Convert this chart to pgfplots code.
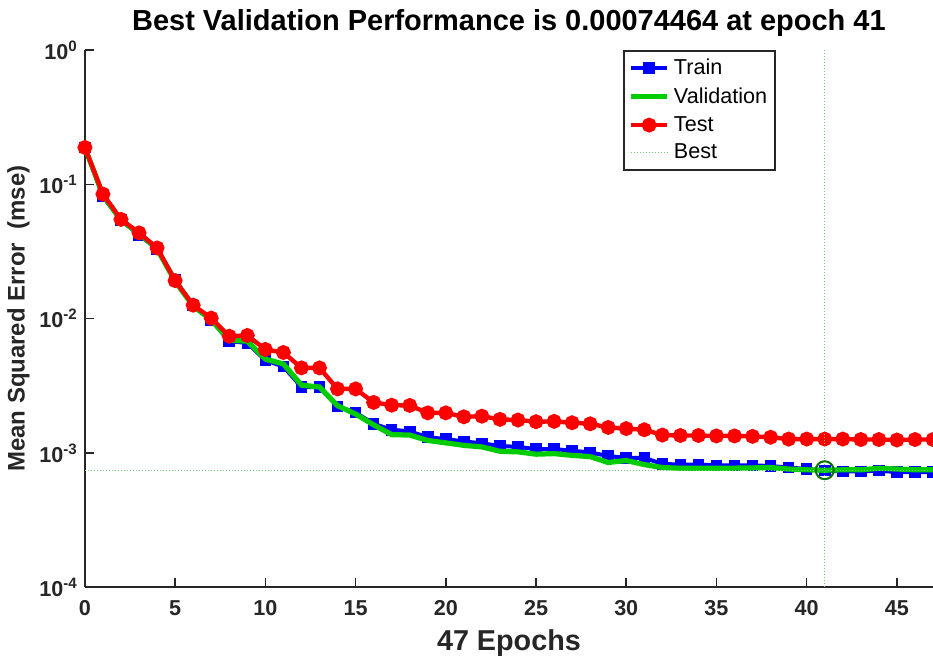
\documentclass[border=0pt]{standalone}
\usepackage{pgfplots}
\pgfplotsset{compat=1.18}
\usepackage{pgfplotstable}
\usepackage{fontspec}
\setmainfont{Liberation Sans}
\definecolor{mgray}{rgb}{0.15,0.15,0.15}
\definecolor{mgreen}{rgb}{0,0.8,0}
\definecolor{bestgreen}{rgb}{0.45,0.8,0.45}
\definecolor{circgreen}{rgb}{0,0.45,0}

\pgfplotstableread{
ep train val test
0 0.188 0.188 0.188
1 0.081 0.083 0.0845
2 0.054 0.054 0.0548
3 0.042 0.043 0.0435
4 0.033 0.033 0.0336
5 0.0195 0.019 0.0192
6 0.0125 0.0124 0.0126
7 0.0098 0.0098 0.0101
8 0.0068 0.0069 0.0074
9 0.0066 0.0068 0.0075
10 0.0049 0.0050 0.0059
11 0.0044 0.0046 0.0056
12 0.0031 0.0032 0.0043
13 0.0031 0.0031 0.0043
14 0.00222 0.00225 0.0030
15 0.0020 0.00195 0.0030
16 0.00165 0.00162 0.00238
17 0.00149 0.00137 0.00227
18 0.00145 0.00136 0.00226
19 0.00131 0.00124 0.00199
20 0.00127 0.00119 0.00199
21 0.00122 0.00114 0.00186
22 0.00118 0.00111 0.00188
23 0.00113 0.00103 0.00178
24 0.00111 0.00102 0.00176
25 0.00107 0.00098 0.00171
26 0.00107 0.00099 0.00172
27 0.00104 0.00096 0.00168
28 0.00101 0.00094 0.00165
29 0.00095 0.00085 0.00155
30 0.00092 0.00088 0.00152
31 0.00092 0.00082 0.00149
32 0.00083 0.00078 0.00136
33 0.00082 0.00077 0.00135
34 0.00082 0.00077 0.00135
35 0.00081 0.000770 0.00134
36 0.00081 0.000772 0.00134
37 0.00081 0.000775 0.00133
38 0.00080 0.00078 0.00131
39 0.00078 0.00076 0.00127
40 0.00076 0.00075 0.00127
41 0.00074 0.00074464 0.00127
42 0.00073 0.00075 0.00127
43 0.00073 0.00075 0.00126
44 0.00074 0.00077 0.00126
45 0.00072 0.00076 0.00125
46 0.00072 0.00075 0.00126
47 0.00072 0.00075 0.00126
}\perf

\begin{document}
\begin{tikzpicture}
\begin{axis}[name=ax,
  scale only axis, width=424.5pt, height=269pt,
  ymode=log, log basis y=10,
  xmin=0, xmax=47, ymin=1e-4, ymax=1,
  axis x line*=bottom, axis y line*=left,
  axis line style={mgray, line width=1pt, -},
  tick align=inside, major tick length=4.5pt, minor tick length=2.5pt,
  tick style={mgray, line width=0.8pt},
  xtick={0,5,...,45},
  ytick={1e-4,1e-3,1e-2,1e-1,1},
  yticklabels={10\textsuperscript{-4},10\textsuperscript{-3},10\textsuperscript{-2},10\textsuperscript{-1},10\textsuperscript{0}},
  ticklabel style={font=\bfseries\fontsize{10.8}{12}\selectfont, text=mgray},
  xticklabel style={yshift=-3pt},
  /pgf/number format/assume math mode=true,
  title={Best Validation Performance is 0.00074464 at epoch 41},
  title style={font=\bfseries\fontsize{14.5}{17}\selectfont, yshift=-3pt},
  xlabel={47 Epochs},
  xlabel style={font=\bfseries\fontsize{14.4}{17}\selectfont, text=mgray},
  ylabel={Mean Squared Error\ \ (mse)},
  ylabel style={font=\bfseries\fontsize{12}{14}\selectfont, text=mgray, yshift=-2pt},
  clip=false, clip marker paths=true,
  legend style={at={(0.815,1)}, anchor=north east, draw=mgray, line width=1pt,
    font=\fontsize{10.8}{13}\selectfont, row sep=1pt, inner sep=2pt},
  legend cell align=left,
  legend image code/.code={\draw[mark repeat=2,mark phase=2] plot coordinates {(0cm,0cm) (0.32cm,0cm) (0.64cm,0cm)};},
]
\addplot[blue, line width=2pt, mark=square*, mark size=1.9pt, mark options={solid}] table[x=ep, y=train] {\perf};
\addlegendentry{Train}
\addplot[mgreen, line width=2.6pt] table[x=ep, y=val] {\perf};
\addlegendentry{Validation}
\addplot[red, line width=2.2pt, mark=*, mark size=2.6pt, mark options={solid}] table[x=ep, y=test] {\perf};
\addlegendentry{Test}
\addplot[bestgreen, line width=0.5pt, densely dotted] coordinates {(41,1e-4) (41,1)};
\addlegendentry{Best}
\addplot[bestgreen, line width=0.5pt, densely dotted, forget plot] coordinates {(0,0.00074464) (47,0.00074464)};
\addplot[circgreen, only marks, mark=o, mark size=4.5pt, line width=1pt, forget plot] coordinates {(41,0.00074464)};
\end{axis}
\pgfresetboundingbox
\path[use as bounding box] ([xshift=-42.5pt,yshift=-34pt]ax.south west) rectangle ([yshift=25pt]ax.north east);
\end{tikzpicture}
\end{document}
